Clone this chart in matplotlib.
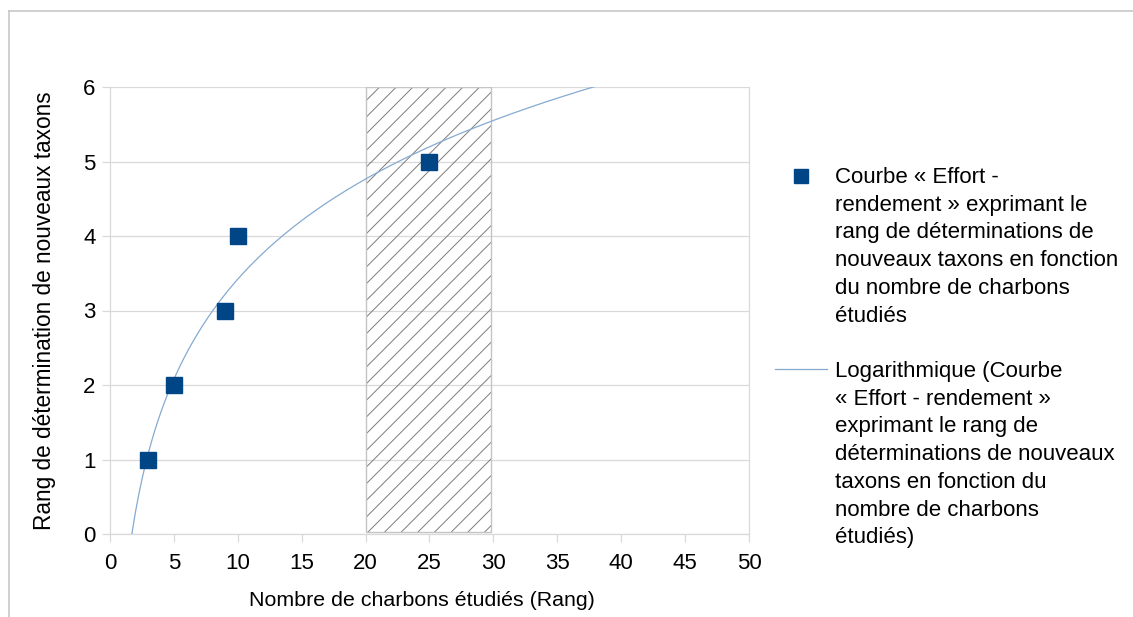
import numpy as np
import matplotlib
matplotlib.use("Agg")
import matplotlib.pyplot as plt
from matplotlib.lines import Line2D
from matplotlib.patches import Rectangle

plt.rcParams['font.family'] = ['Liberation Sans', 'DejaVu Sans']
plt.rcParams['hatch.linewidth'] = 0.7

# Data
x_charbons = [3, 5, 9, 10, 25]
y_rang = [1, 2, 3, 4, 5]
hatch_range = (20, 29.8)
x_ticks = [0, 5, 10, 15, 20, 25, 30, 35, 40, 45, 50]
y_ticks = [0, 1, 2, 3, 4, 5, 6]

label_points = ("Courbe « Effort -\nrendement » exprimant le\nrang de déterminations de\n"
                "nouveaux taxons en fonction\ndu nombre de charbons\nétudiés")
label_log = ("Logarithmique (Courbe\n« Effort - rendement »\nexprimant le rang de\n"
             "déterminations de nouveaux\ntaxons en fonction du\nnombre de charbons\nétudiés)")

W, H = 1133, 617
fig = plt.figure(figsize=(W / 100, H / 100), dpi=100)
ax = fig.add_axes([110 / W, 1 - 534 / H, 639 / W, 447 / H])

grid_c = '#d9d9d9'
ax.set_xlim(0, 50)
ax.set_ylim(0, 6)
ax.set_xticks(x_ticks)
ax.set_yticks(y_ticks)
ax.grid(True, axis='y', color=grid_c, lw=0.9)
ax.set_axisbelow(True)
ax.spines['top'].set_visible(False)
for s in ['left', 'bottom', 'right']:
    ax.spines[s].set_color(grid_c)
    ax.spines[s].set_linewidth(0.9)
ax.tick_params(axis='both', colors=grid_c, labelcolor='black', labelsize=16, length=5.5, width=0.9)
ax.tick_params(axis='x', pad=8)
ax.tick_params(axis='y', pad=5)

# hatched box: hatch lines (dark grey) + light border
box_y0 = 0.03
bw = hatch_range[1] - hatch_range[0]
ax.add_patch(Rectangle((hatch_range[0], box_y0), bw, 6 - box_y0,
                       facecolor='none', edgecolor='#7c7c7c', lw=0, hatch='//', zorder=2))
ax.add_patch(Rectangle((hatch_range[0], box_y0), bw, 6 - box_y0,
                       facecolor='none', edgecolor='#c4c4c4', lw=1.0, zorder=2))

# log trendline
a, b = np.polyfit(np.log(x_charbons), y_rang, 1)
x0 = np.exp(-b / a)
xs = np.linspace(x0, 50, 600)
ys = a * np.log(xs) + b
trend_color = '#86aad0'
ax.plot(xs, ys, color=trend_color, lw=0.9, zorder=3)

ax.plot(x_charbons, y_rang, 's', color='#004586', markersize=12, zorder=4,
        markeredgecolor='#004586')

ax.set_xlabel("Nombre de charbons étudiés (Rang)", fontsize=15.4)
ax.xaxis.set_label_coords(0.4876, -0.128)
ax.set_ylabel("Rang de détermination de nouveaux taxons", fontsize=16.3)
ax.yaxis.set_label_coords(-0.085, 0.5)

def fy(px):
    return 1 - px / H

# legend (manual, handle aligned to first text line)
ls = 1.42
fig.text(835 / W, fy(167), label_points, fontsize=16, va='top', ha='left', linespacing=ls)
fig.text(835 / W, fy(361), label_log, fontsize=16, va='top', ha='left', linespacing=ls)
fig.add_artist(Line2D([801 / W], [fy(175.5)], marker='s', color='#004586', ls='none',
                      markersize=10, transform=fig.transFigure))
fig.add_artist(Line2D([775 / W, 827 / W], [fy(369), fy(369)], color=trend_color, lw=0.9,
                      transform=fig.transFigure))

# outer border
fig.add_artist(Line2D([9 / W, 1], [fy(11), fy(11)], color='#c8c8c8', lw=1.2,
                      transform=fig.transFigure))
fig.add_artist(Line2D([9 / W, 9 / W], [0, fy(11)], color='#c8c8c8', lw=1.2,
                      transform=fig.transFigure))

fig.savefig('out.png', dpi=100)
